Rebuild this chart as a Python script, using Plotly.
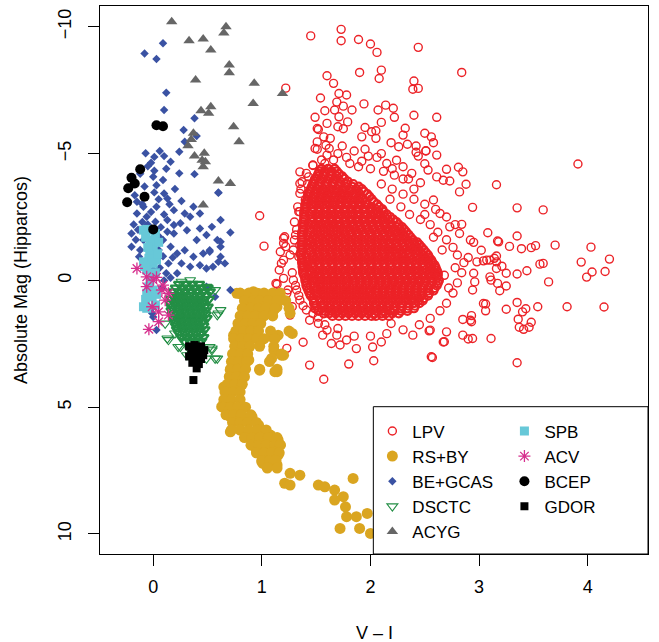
import plotly.graph_objects as go

FONT = "Liberation Sans, Arial, Helvetica, sans-serif"

# ---------------------------------------------------------------
# Hipparcos variable stars: colour V-I vs absolute magnitude
# each list holds (V-I, absolute magnitude) pairs
# ---------------------------------------------------------------

# LPV: scattered stars around the giant-branch clump
lpv_pts = [
    (1.45, -9.64), (1.73, -9.90), (1.73, -9.45), (1.89, -9.50), (2.00, -9.32), (2.06, -8.99),
    (2.44, -9.19), (2.84, -8.20), (1.22, -7.58), (1.60, -8.07), (1.66, -7.77), (1.90, -8.20),
    (2.10, -8.29), (2.08, -7.96), (2.40, -7.86), (2.39, -7.54), (2.44, -7.57), (1.54, -7.19),
    (1.71, -7.37), (1.78, -7.31), (1.69, -7.03), (1.75, -6.87), (1.58, -6.69), (1.67, -6.72),
    (1.83, -6.72), (1.94, -6.96), (1.49, -6.43), (1.71, -6.45), (1.79, -6.25), (2.07, -6.72),
    (2.14, -6.91), (2.21, -6.79), (2.22, -6.43), (2.10, -6.23), (2.40, -6.51), (2.61, -6.43),
    (1.52, -5.95), (1.60, -6.19), (1.70, -6.06), (1.75, -5.98), (1.95, -6.03), (2.01, -5.86),
    (2.05, -5.90), (1.92, -5.66), (2.05, -5.60), (1.51, -5.46), (1.57, -5.66), (1.63, -5.60),
    (1.59, -5.33), (2.19, -5.43), (2.26, -5.27), (2.30, -5.73), (2.32, -6.00), (2.34, -5.37),
    (2.42, -5.30), (2.42, -5.05), (2.50, -5.80), (2.56, -5.66), (2.58, -5.43), (2.51, -5.10),
    (2.61, -4.94), (1.51, -5.17), (1.60, -4.94), (1.70, -5.00), (1.81, -4.61), (1.89, -4.48),
    (1.95, -5.17), (2.06, -4.85), (2.15, -4.61), (2.24, -4.74), (2.30, -4.48), (2.38, -4.22),
    (2.53, -4.35), (2.61, -4.08), (2.70, -4.38), (2.67, -3.95), (1.35, -4.28), (1.35, -3.82),
    (1.43, -4.08), (1.47, -4.53), (1.58, -4.61), (0.98, -2.55), (1.35, -2.71), (1.51, -5.99),
    (1.49, -5.20), (1.47, -4.55), (1.41, -4.22), (1.37, -3.89), (1.35, -3.43), (1.40, -3.17),
    (1.34, -2.71), (1.30, -1.59), (1.20, -1.66), (1.22, -1.33), (1.18, -0.67), (1.24, 0.38),
    (3.91, -4.59), (3.16, -3.77), (3.35, -2.86), (3.59, -2.78), (2.94, -2.88), (2.82, -3.49),
    (2.88, -3.79), (2.73, -3.92), (2.81, -4.46), (2.85, -4.28), (2.51, -5.11),
    (3.08, -1.88), (3.17, -1.55), (3.18, -1.52), (3.28, -1.34), (3.35, -1.75), (3.39, -1.25),
    (3.48, -1.29), (3.52, -1.37), (3.70, -1.39), (4.03, -1.31), (4.20, -0.84), (3.94, -0.72),
    (4.16, -0.35), (4.04, -0.33), (3.99, -0.13), (3.64, 0.06), (3.59, -0.67), (3.56, -0.64),
    (3.02, -1.19), (2.98, -0.73), (3.04, -0.77), (3.10, -0.80), (3.14, -0.87), (3.16, -0.96),
    (3.21, -0.56), (3.25, -0.28), (3.35, -0.25), (3.44, -0.38), (2.95, -0.28), (2.96, 0.06),
    (3.10, -0.14), (3.17, 0.12), (3.19, 0.41), (3.25, 0.22), (3.35, 0.87), (3.40, 1.24),
    (3.43, 1.12), (3.36, 1.53), (3.37, 1.85), (3.41, 1.93), (3.46, 1.85), (3.48, 1.65),
    (3.54, 1.04), (3.81, 1.04), (4.15, 1.05), (3.25, 1.14), (3.06, 0.93), (3.06, 1.20),
    (2.93, 1.39), (2.93, 1.63), (2.85, 1.54), (2.85, 2.16), (2.90, 2.31), (2.94, 2.29),
    (3.11, 2.29), (2.70, 2.03), (2.68, 2.42), (2.57, 3.04), (3.35, 3.25), (2.54, 1.99),
    (2.19, 1.70), (2.39, 2.16), (2.55, 1.96), (2.67, 2.43), (3.04, 0.91), (2.92, 1.57),
    (2.94, 0.38), (3.11, -0.01), (3.16, -0.47), (3.16, -0.73), (3.07, -0.80), (2.92, -1.59),
    (2.82, -1.85), (2.84, -2.21), (2.73, -2.11), (2.64, -2.64), (2.58, -3.17), (4.62, 0.32),
    (1.38, 2.44), (1.44, 3.34), (1.80, 3.30), (2.03, 3.17), (2.56, 3.01), (1.23, 2.68),
    (1.57, 3.90), (1.44, 1.57), (1.52, 1.70), (1.56, 2.16), (1.64, 2.49), (1.72, 2.55),
    (1.87, 2.69), (2.02, 2.63), (2.10, 2.43), (1.60, 1.96), (1.69, 2.16), (1.78, 2.35),
    (1.26, 1.37), (1.14, 0.15), (1.20, -0.08), (1.23, 0.51), (1.28, 1.04), (1.02, -1.35),
    (1.16, -0.41), (1.20, -0.80), (1.20, -1.46), (1.21, -1.72), (1.13, 0.12), (1.14, 0.65),
    (1.31, -1.79), (1.35, -1.39), (1.34, -0.93), (1.37, -0.54), (1.29, -0.01), (1.32, 0.38),
    (1.35, 0.78), (1.41, 1.17), (1.47, 1.30), (1.26, -1.00), (1.17, -1.13),
    (1.62, -5.20), (1.74, -5.30), (1.85, -5.10), (1.98, -4.90), (2.10, -5.00), (1.66, -4.75),
    (1.78, -4.85), (1.92, -4.70), (2.00, -4.40), (2.12, -4.30), (2.22, -4.15), (2.35, -4.00),
    (2.46, -3.85), (2.50, -4.60), (2.44, -4.90), (1.55, -4.75), (2.10, -3.80), (2.20, -3.60),
    (2.30, -3.40), (2.40, -3.20), (2.50, -3.00), (2.60, -2.80), (2.70, -2.50), (2.78, -2.20),
    (2.18, -3.20), (2.28, -2.90), (2.36, -2.60), (2.46, -2.40), (2.55, -2.20), (2.62, -1.90),
    (2.70, -1.60), (2.76, -1.30), (2.80, -1.00), (2.86, -0.70), (2.84, -0.30), (2.80, 0.10),
    (2.76, 0.50), (2.70, 0.90), (2.64, 1.20), (2.55, 1.50), (2.45, 1.75), (2.30, 1.95),
    (2.15, 2.10), (2.00, 2.20), (1.85, 2.20), (1.70, 1.90), (1.58, 1.75), (1.52, 1.45),
    (2.90, -0.90), (2.95, -1.50), (2.68, -0.20), (2.72, 0.30), (2.78, -0.50), (2.66, -1.20),
    (2.58, -1.70), (2.50, -2.60), (2.40, -3.60), (2.30, -4.00), (2.20, -4.40), (1.30, -2.30),
    (1.33, -2.90), (1.36, -3.60), (1.42, -3.80), (1.32, -2.00), (1.29, -1.20), (1.28, -0.30),
    (1.31, 0.20), (1.34, 0.60), (1.38, 1.00),
]

# LPV: the crowded centre of the clump, one row per magnitude
lpv_core_rows = [
    (-4.4, [1.55, 1.61, 1.67]),
    (-4.3, [1.53, 1.58, 1.64, 1.69]),
    (-4.2, [1.52, 1.58, 1.64, 1.71]),
    (-4.1, [1.51, 1.57, 1.63, 1.69, 1.74]),
    (-4.0, [1.49, 1.55, 1.62, 1.68, 1.76]),
    (-3.9, [1.48, 1.54, 1.60, 1.66, 1.72, 1.79]),
    (-3.8, [1.47, 1.52, 1.59, 1.65, 1.71, 1.78, 1.84]),
    (-3.7, [1.46, 1.53, 1.59, 1.65, 1.71, 1.77, 1.83, 1.89]),
    (-3.6, [1.45, 1.50, 1.56, 1.62, 1.69, 1.74, 1.81, 1.87, 1.92]),
    (-3.5, [1.44, 1.51, 1.57, 1.63, 1.69, 1.75, 1.81, 1.87, 1.94]),
    (-3.4, [1.43, 1.48, 1.54, 1.60, 1.65, 1.72, 1.77, 1.84, 1.90, 1.97]),
    (-3.3, [1.43, 1.49, 1.55, 1.61, 1.67, 1.73, 1.79, 1.85, 1.91, 1.99]),
    (-3.2, [1.42, 1.46, 1.52, 1.58, 1.63, 1.70, 1.75, 1.81, 1.88, 1.93, 2.01]),
    (-3.1, [1.41, 1.48, 1.54, 1.60, 1.66, 1.72, 1.78, 1.84, 1.90, 1.96, 2.03]),
    (-3.0, [1.40, 1.45, 1.50, 1.56, 1.62, 1.67, 1.73, 1.79, 1.85, 1.91, 1.97, 2.06]),
    (-2.9, [1.40, 1.47, 1.53, 1.59, 1.65, 1.71, 1.77, 1.83, 1.89, 1.95, 2.01, 2.08]),
    (-2.8, [1.40, 1.47, 1.53, 1.58, 1.64, 1.70, 1.76, 1.82, 1.87, 1.94, 2.00, 2.05, 2.11]),
    (-2.7, [1.39, 1.46, 1.52, 1.58, 1.64, 1.70, 1.76, 1.82, 1.88, 1.94, 2.00, 2.06, 2.12]),
    (-2.6, [1.39, 1.44, 1.50, 1.56, 1.61, 1.67, 1.73, 1.79, 1.84, 1.90, 1.97, 2.03, 2.09, 2.15]),
    (-2.5, [1.39, 1.47, 1.53, 1.59, 1.65, 1.71, 1.77, 1.83, 1.89, 1.95, 2.01, 2.07, 2.13, 2.18]),
    (-2.4, [1.39, 1.46, 1.52, 1.58, 1.63, 1.69, 1.76, 1.81, 1.87, 1.93, 1.99, 2.05, 2.11, 2.16,
            2.21]),
    (-2.3, [1.38, 1.46, 1.52, 1.58, 1.64, 1.70, 1.76, 1.82, 1.88, 1.94, 2.00, 2.06, 2.12, 2.18,
            2.24]),
    (-2.2, [1.38, 1.43, 1.49, 1.55, 1.61, 1.66, 1.72, 1.78, 1.84, 1.90, 1.96, 2.02, 2.08, 2.13,
            2.19, 2.26]),
    (-2.1, [1.38, 1.48, 1.54, 1.60, 1.66, 1.72, 1.78, 1.84, 1.90, 1.96, 2.02, 2.08, 2.14, 2.20,
            2.25, 2.29]),
    (-2.0, [1.38, 1.45, 1.51, 1.57, 1.63, 1.69, 1.75, 1.81, 1.86, 1.92, 1.98, 2.04, 2.10, 2.16,
            2.22, 2.27, 2.31]),
    (-1.9, [1.37, 1.45, 1.51, 1.57, 1.63, 1.69, 1.75, 1.81, 1.87, 1.93, 1.99, 2.05, 2.11, 2.17,
            2.22, 2.28, 2.33]),
    (-1.8, [1.37, 1.42, 1.48, 1.54, 1.60, 1.66, 1.72, 1.77, 1.83, 1.89, 1.95, 2.01, 2.07, 2.13,
            2.19, 2.24, 2.30, 2.35]),
    (-1.7, [1.37, 1.47, 1.53, 1.59, 1.65, 1.71, 1.77, 1.83, 1.89, 1.95, 2.01, 2.07, 2.13, 2.19,
            2.25, 2.31, 2.37]),
    (-1.6, [1.37, 1.44, 1.50, 1.56, 1.62, 1.68, 1.74, 1.80, 1.86, 1.92, 1.98, 2.04, 2.10, 2.15,
            2.21, 2.27, 2.33, 2.39]),
    (-1.5, [1.37, 1.45, 1.51, 1.57, 1.63, 1.69, 1.75, 1.81, 1.87, 1.93, 1.99, 2.05, 2.11, 2.17,
            2.23, 2.29, 2.35, 2.40, 2.43]),
    (-1.4, [1.37, 1.42, 1.47, 1.53, 1.59, 1.65, 1.71, 1.77, 1.83, 1.89, 1.95, 2.01, 2.07, 2.12,
            2.18, 2.24, 2.30, 2.36, 2.41, 2.45]),
    (-1.3, [1.37, 1.47, 1.53, 1.59, 1.65, 1.71, 1.77, 1.83, 1.89, 1.95, 2.01, 2.07, 2.13, 2.19,
            2.25, 2.31, 2.37, 2.42, 2.47]),
    (-1.2, [1.37, 1.44, 1.50, 1.56, 1.62, 1.68, 1.74, 1.80, 1.86, 1.92, 1.98, 2.04, 2.10, 2.16,
            2.21, 2.27, 2.33, 2.39, 2.44, 2.49]),
    (-1.1, [1.36, 1.45, 1.51, 1.57, 1.63, 1.69, 1.75, 1.81, 1.87, 1.93, 1.99, 2.05, 2.11, 2.17,
            2.23, 2.29, 2.35, 2.41, 2.46, 2.51]),
    (-1.0, [1.36, 1.41, 1.47, 1.53, 1.59, 1.65, 1.71, 1.77, 1.83, 1.89, 1.95, 2.01, 2.07, 2.13,
            2.19, 2.25, 2.30, 2.36, 2.42, 2.48, 2.53]),
    (-0.9, [1.37, 1.47, 1.53, 1.59, 1.65, 1.71, 1.77, 1.83, 1.89, 1.95, 2.01, 2.07, 2.13, 2.19,
            2.25, 2.31, 2.37, 2.43, 2.49, 2.54]),
    (-0.8, [1.37, 1.44, 1.50, 1.56, 1.62, 1.68, 1.74, 1.80, 1.86, 1.92, 1.98, 2.04, 2.10, 2.16,
            2.22, 2.28, 2.33, 2.39, 2.45, 2.51, 2.56]),
    (-0.7, [1.37, 1.46, 1.52, 1.58, 1.64, 1.70, 1.76, 1.82, 1.88, 1.94, 2.00, 2.06, 2.12, 2.18,
            2.24, 2.30, 2.36, 2.42, 2.48, 2.53, 2.57]),
    (-0.6, [1.38, 1.42, 1.47, 1.53, 1.59, 1.65, 1.71, 1.77, 1.83, 1.89, 1.95, 2.01, 2.07, 2.13,
            2.19, 2.25, 2.31, 2.36, 2.42, 2.48, 2.54, 2.59]),
    (-0.5, [1.38, 1.47, 1.53, 1.59, 1.65, 1.71, 1.77, 1.83, 1.89, 1.95, 2.01, 2.07, 2.13, 2.19,
            2.25, 2.31, 2.37, 2.43, 2.49, 2.55, 2.60]),
    (-0.4, [1.38, 1.44, 1.50, 1.56, 1.62, 1.68, 1.74, 1.80, 1.86, 1.92, 1.98, 2.04, 2.10, 2.16,
            2.22, 2.28, 2.34, 2.40, 2.45, 2.51, 2.57, 2.61]),
    (-0.3, [1.38, 1.46, 1.52, 1.58, 1.64, 1.70, 1.76, 1.82, 1.88, 1.94, 2.00, 2.06, 2.12, 2.18,
            2.24, 2.30, 2.36, 2.42, 2.48, 2.54, 2.59, 2.62]),
    (-0.2, [1.39, 1.43, 1.48, 1.53, 1.59, 1.65, 1.71, 1.77, 1.83, 1.89, 1.95, 2.01, 2.07, 2.13,
            2.19, 2.25, 2.31, 2.37, 2.43, 2.48, 2.54, 2.59, 2.62]),
    (-0.1, [1.40, 1.48, 1.54, 1.60, 1.66, 1.72, 1.78, 1.84, 1.90, 1.96, 2.02, 2.08, 2.14, 2.20,
            2.26, 2.32, 2.38, 2.44, 2.50, 2.56, 2.61]),
    (0.0, [1.40, 1.46, 1.51, 1.57, 1.63, 1.69, 1.75, 1.80, 1.86, 1.92, 1.98, 2.04, 2.10, 2.16,
           2.22, 2.28, 2.34, 2.40, 2.46, 2.51, 2.57, 2.63]),
    (0.1, [1.41, 1.48, 1.54, 1.60, 1.66, 1.72, 1.78, 1.84, 1.90, 1.96, 2.02, 2.08, 2.14, 2.20,
           2.26, 2.32, 2.38, 2.44, 2.50, 2.56, 2.62]),
    (0.2, [1.41, 1.45, 1.49, 1.54, 1.60, 1.66, 1.72, 1.78, 1.84, 1.90, 1.96, 2.02, 2.08, 2.14,
           2.20, 2.25, 2.31, 2.37, 2.43, 2.49, 2.55, 2.61]),
    (0.3, [1.42, 1.51, 1.57, 1.63, 1.69, 1.75, 1.81, 1.87, 1.93, 1.99, 2.05, 2.11, 2.17, 2.23,
           2.29, 2.35, 2.41, 2.47, 2.53, 2.59]),
    (0.4, [1.43, 1.48, 1.54, 1.60, 1.66, 1.72, 1.78, 1.84, 1.90, 1.96, 2.01, 2.07, 2.13, 2.19,
           2.25, 2.31, 2.37, 2.43, 2.48, 2.53, 2.58]),
    (0.5, [1.44, 1.51, 1.57, 1.63, 1.69, 1.75, 1.81, 1.87, 1.93, 1.99, 2.05, 2.11, 2.17, 2.23,
           2.29, 2.35, 2.41, 2.47, 2.54]),
    (0.6, [1.45, 1.51, 1.57, 1.63, 1.69, 1.75, 1.81, 1.87, 1.93, 1.99, 2.05, 2.11, 2.17, 2.23,
           2.29, 2.35, 2.41, 2.47, 2.53]),
    (0.7, [1.47, 1.54, 1.60, 1.66, 1.72, 1.78, 1.84, 1.90, 1.96, 2.02, 2.08, 2.14, 2.20, 2.26,
           2.32, 2.38, 2.44, 2.49]),
    (0.8, [1.48, 1.54, 1.60, 1.66, 1.72, 1.78, 1.84, 1.90, 1.96, 2.02, 2.08, 2.14, 2.20, 2.26,
           2.32, 2.38, 2.44, 2.48]),
    (0.9, [1.48, 1.57, 1.63, 1.69, 1.75, 1.81, 1.87, 1.93, 1.99, 2.05, 2.11, 2.17, 2.23, 2.29,
           2.35, 2.40, 2.45]),
    (1.0, [1.50, 1.57, 1.63, 1.69, 1.75, 1.81, 1.87, 1.93, 1.99, 2.05, 2.11, 2.17, 2.23, 2.29,
           2.35, 2.41]),
    (1.1, [1.49, 1.55, 1.61, 1.67, 1.73, 1.79, 1.85, 1.91, 1.97, 2.03, 2.09, 2.15, 2.21, 2.28,
           2.34, 2.40]),
    (1.2, [1.52, 1.58, 1.64, 1.70, 1.76, 1.82, 1.88, 1.94, 2.00, 2.06, 2.12, 2.18, 2.22, 2.28,
           2.34]),
    (1.3, [1.57, 1.62, 1.68, 1.74, 1.80, 1.86, 1.92, 1.98, 2.04, 2.10, 2.14, 2.20, 2.26]),
    (1.4, [1.65, 1.71, 1.77, 1.83, 1.89, 1.95, 2.01, 2.05, 2.11, 2.17]),
]

# RS+BY: main-sequence band
rsby_pts = [
    (0.80, 0.52), (0.91, 0.58), (0.97, 0.52), (1.03, 0.65), (1.17, 0.65), (1.14, 1.04),
    (1.26, 1.30), (1.11, 1.17), (1.05, 0.91), (0.95, 0.91), (0.88, 0.91), (0.83, 1.24),
    (0.94, 1.24), (1.03, 1.30), (0.74, 2.16), (0.83, 1.96), (0.88, 1.70), (0.95, 1.76),
    (1.00, 2.35), (1.09, 2.22), (1.15, 2.16), (1.11, 2.75), (1.18, 2.95), (1.28, 2.09),
    (1.09, 3.08), (1.14, 3.60), (0.98, 3.54), (0.74, 2.88), (0.80, 3.14), (0.88, 3.14),
    (0.71, 3.54), (0.72, 3.93), (0.77, 4.20), (0.68, 4.59), (0.65, 4.85), (0.65, 4.20),
    (0.63, 4.98), (0.71, 5.38), (0.77, 5.11), (0.83, 5.44), (0.91, 5.38), (0.97, 5.71),
    (0.71, 5.97), (0.85, 6.03), (0.92, 6.23), (0.98, 6.43), (1.08, 6.10), (1.15, 6.30),
    (1.17, 6.49), (1.08, 6.69), (0.95, 6.69), (1.00, 7.15), (1.08, 7.28), (1.14, 7.28),
    (1.15, 6.89), (1.01, 7.22), (1.26, 7.61), (1.35, 7.68), (1.21, 8.00), (1.26, 8.07),
    (1.52, 8.07), (1.58, 8.14), (1.67, 8.27), (1.84, 7.81), (1.75, 8.53), (1.67, 8.66),
    (1.77, 8.93), (1.78, 9.32), (1.87, 9.32), (1.97, 9.19), (1.72, 9.78), (1.90, 9.78),
    (2.00, 9.98), (1.17, 0.71), (1.12, 3.60), (1.20, 2.95), (0.77, 0.51), (0.92, 0.45),
]
rsby_rows = [
    (0.5, [0.80, 0.88, 0.95, 1.02, 1.10, 1.17]),
    (0.8, [0.84, 0.92, 0.98, 1.06, 1.14, 1.22]),
    (1.1, [0.82, 0.90, 0.97, 1.04, 1.12, 1.25]),
    (1.4, [0.80, 0.87, 0.94, 1.02, 1.10]),
    (1.7, [0.78, 0.85, 0.92, 0.99]),
    (2.0, [0.76, 0.83, 0.90, 0.97, 1.08, 1.25]),
    (2.3, [0.74, 0.81, 0.88, 0.95, 1.02, 1.12]),
    (2.6, [0.75, 0.82, 0.89, 0.98, 1.11]),
    (2.9, [0.73, 0.80, 0.87, 1.18]),
    (3.2, [0.72, 0.79, 0.86, 1.07]),
    (3.5, [0.71, 0.78, 0.85, 0.98, 1.14]),
    (3.8, [0.70, 0.77, 0.84]),
    (4.1, [0.68, 0.75, 0.82]),
    (4.4, [0.66, 0.73, 0.80]),
    (4.7, [0.65, 0.72, 0.80]),
    (5.0, [0.64, 0.71, 0.78, 0.85]),
    (5.3, [0.67, 0.74, 0.81, 0.90]),
    (5.6, [0.73, 0.80, 0.87, 0.95]),
    (5.9, [0.72, 0.80, 0.88, 0.96, 1.04]),
    (6.2, [0.84, 0.91, 0.98, 1.06, 1.14]),
    (6.5, [0.90, 0.97, 1.04, 1.12, 1.17]),
    (6.8, [0.95, 1.02, 1.09, 1.16]),
    (7.1, [1.00, 1.07, 1.13]),
    (7.4, [1.05, 1.14]),
]

# BE+GCAS: hot emission-line stars
begcas_pts = [
    (-0.08, -8.95), (0.09, -9.35), (0.03, -8.73), (0.12, -7.40), (0.10, -6.72), (0.38, -6.39),
    (0.28, -5.93), (0.40, -5.69), (0.29, -5.47), (-0.07, -5.01), (0.06, -5.10), (0.01, -4.87),
    (0.24, -5.07), (0.16, -4.68), (-0.02, -4.64), (0.01, -4.32), (0.00, -4.09), (0.24, -4.22),
    (0.38, -4.19), (0.09, -3.96), (0.01, -3.47), (0.10, -3.43), (0.26, -3.13), (0.60, -3.47),
    (0.13, -3.23), (-0.17, -3.36), (-0.15, -3.10), (-0.09, -2.90), (0.03, -2.90), (0.19, -2.77),
    (0.29, -2.64), (0.37, -2.90), (0.43, -2.64), (0.34, -2.51), (0.62, -2.38), (0.71, -1.89),
    (-0.15, -2.64), (-0.06, -2.51), (0.02, -2.31), (0.13, -2.38), (0.19, -2.18), (0.25, -2.25),
    (-0.06, -1.98), (0.03, -1.98), (0.13, -1.92), (0.19, -1.85), (0.31, -1.98), (0.43, -2.05),
    (0.54, -2.11), (0.49, -1.79), (0.40, -1.59), (0.59, -1.59), (0.62, -1.33), (-0.20, -1.85),
    (-0.20, -1.33), (-0.09, -1.59), (0.00, -1.46), (0.09, -1.59), (0.16, -1.33), (0.22, -1.06),
    (0.29, -1.19), (0.37, -0.93), (0.46, -1.06), (0.52, -1.19), (0.62, -0.93), (0.66, -0.67),
    (0.55, -0.54), (0.43, -0.60), (0.34, -0.54), (0.26, -0.67), (0.14, -0.67), (0.03, -0.80),
    (-0.06, -0.80), (-0.13, -0.93), (0.00, -0.41), (0.12, -0.28), (0.22, -0.28), (0.71, 0.38),
    (0.60, -3.45), (0.62, -1.52), (0.52, -1.13), (0.60, -0.73), (0.49, -0.47), (0.57, 0.65),
    (0.49, 0.25), (0.00, 1.04), (0.03, 1.96), (0.00, 1.44), (-0.01, 1.30), (-0.18, -2.20),
    (-0.14, -2.00), (-0.10, -2.30), (-0.05, -2.20), (0.07, -2.10), (0.10, -2.60), (-0.02, -2.70),
    (0.06, -1.70), (-0.12, -1.20), (-0.16, -1.60), (0.05, -1.20), (0.09, -0.95), (0.18, -0.90),
    (0.06, -0.50), (0.10, 0.00), (0.16, -0.10), (0.08, 0.30), (-0.08, -3.70), (0.03, -3.75),
    (-0.12, -4.20), (0.12, -4.40), (-0.05, -4.50), (0.10, -4.90), (0.20, -3.60), (0.15, -3.00),
    (0.05, -3.20), (-0.10, -3.00),
]

# DSCTC: delta Scuti stars
dsctc_pts = [
    (0.14, 2.35), (0.25, 2.62), (0.34, 2.75), (0.54, 2.75), (0.57, 3.08), (0.59, 1.37),
    (0.57, 0.38), (0.49, 0.25), (0.34, -0.01), (0.26, 0.05), (0.11, 1.70), (0.20, 2.09),
    (0.62, 1.17), (0.54, 2.68), (0.59, 3.08), (0.49, 3.08), (0.13, 2.29), (0.23, 2.62),
    (0.31, 2.95), (0.52, 2.62), (0.60, 1.30),
]
dsctc_rows = [
    (0.15, [0.24, 0.30, 0.36, 0.42]),
    (0.30, [0.21, 0.27, 0.32, 0.38, 0.44, 0.50]),
    (0.45, [0.19, 0.24, 0.29, 0.35, 0.40, 0.46, 0.52]),
    (0.60, [0.18, 0.23, 0.28, 0.33, 0.38, 0.43, 0.48]),
    (0.75, [0.17, 0.22, 0.27, 0.32, 0.37, 0.42, 0.47, 0.51]),
    (0.90, [0.16, 0.21, 0.26, 0.31, 0.36, 0.41, 0.46]),
    (1.05, [0.17, 0.22, 0.27, 0.32, 0.37, 0.42, 0.47, 0.50]),
    (1.20, [0.17, 0.23, 0.28, 0.33, 0.38, 0.43, 0.48]),
    (1.35, [0.18, 0.23, 0.28, 0.33, 0.38, 0.43, 0.48]),
    (1.50, [0.19, 0.24, 0.29, 0.34, 0.39, 0.44, 0.49]),
    (1.65, [0.20, 0.25, 0.30, 0.35, 0.40, 0.45]),
    (1.80, [0.21, 0.26, 0.31, 0.36, 0.41, 0.46]),
    (1.95, [0.22, 0.27, 0.32, 0.37, 0.42, 0.47]),
    (2.10, [0.24, 0.29, 0.34, 0.39, 0.44]),
    (2.25, [0.26, 0.31, 0.36, 0.41, 0.46]),
    (2.40, [0.29, 0.34, 0.39, 0.44]),
]

# ACYG: alpha Cygni supergiants
acyg_pts = [
    (0.17, -10.20), (0.33, -9.45), (0.46, -9.52), (0.53, -9.08), (0.67, -10.00), (0.65, -9.76),
    (0.70, -8.49), (0.70, -8.19), (0.39, -7.90), (0.93, -7.77), (0.92, -6.98), (1.19, -7.37),
    (0.53, -6.85), (0.44, -6.69), (0.51, -6.59), (0.74, -6.06), (0.79, -5.47), (0.37, -5.80),
    (0.35, -5.56), (0.32, -5.31), (0.47, -5.01), (0.38, -4.90), (0.45, -4.74), (0.48, -4.68),
    (0.46, -4.48), (0.60, -3.92), (0.71, -3.82), (0.46, -2.97),
]

# SPB: slowly pulsating B stars
spb_pts = [
    (-0.06, -2.01), (0.02, -1.85), (-0.03, -1.46), (0.00, -1.26), (-0.03, -1.06), (-0.04, -0.87),
    (0.00, -0.67), (0.03, -0.80), (-0.06, -0.41), (-0.01, -0.14), (-0.04, 0.25), (0.00, 0.38),
    (-0.01, 0.65), (-0.06, 1.10), (-0.09, 1.04), (0.02, 0.97), (-0.03, -1.19), (-0.01, -1.98),
    (-0.09, -1.98), (-0.09, -0.73), (-0.06, 0.51), (-0.07, -1.70), (0.00, -1.60), (-0.05, -1.30),
    (0.04, -1.05), (-0.08, -0.55), (0.02, -0.30), (-0.03, 0.00), (-0.07, 0.75), (0.03, 0.55),
    (0.05, -1.50),
]

# ACV: alpha2 CVn stars
acv_pts = [
    (-0.15, -0.47), (-0.06, -0.14), (0.00, -0.01), (-0.06, 0.25), (0.08, 0.38), (0.11, 0.78),
    (-0.01, 1.04), (0.05, 1.24), (0.14, 1.37), (0.05, 1.63), (-0.04, 1.93), (0.03, -0.12),
    (0.14, 0.51), (0.09, 0.19),
]

# BCEP: beta Cephei stars
bcep_pts = [
    (0.03, -6.12), (0.09, -6.08), (-0.12, -4.38), (-0.20, -4.05), (-0.17, -3.82), (-0.23, -3.63),
    (-0.24, -3.08), (-0.08, -3.30), (0.00, -2.01),
]

# GDOR: gamma Doradus stars
gdor_pts = [
    (0.33, 2.60), (0.38, 2.55), (0.44, 2.60), (0.47, 2.75), (0.35, 2.80), (0.41, 2.85),
    (0.46, 2.95), (0.33, 3.00), (0.38, 3.05), (0.44, 3.10), (0.36, 3.25), (0.42, 3.30),
    (0.40, 3.47), (0.37, 3.93),
]

x_ticks = [0, 1, 2, 3, 4]
y_ticks = [-10, -5, 0, 5, 10]


def rows_to_pts(rows):
    return [(vi, mag) for mag, vis in rows for vi in vis]


def split(pts):
    return [p[0] for p in pts], [p[1] for p in pts]


# name, points, symbol, size, colour, line width, legend, crowded-centre points
series = [
    ("LPV", lpv_pts, "circle-open", 8, "#EC2227", 1.4, "legend", rows_to_pts(lpv_core_rows)),
    ("RS+BY", rsby_pts + rows_to_pts(rsby_rows), "circle", 11, "#DAA520", 0, "legend", []),
    ("BE+GCAS", begcas_pts, "diamond", 6.5, "#3A52A3", 0, "legend", []),
    ("DSCTC", dsctc_pts, "triangle-down-open", 9.5, "#238E45", 1.1, "legend",
     rows_to_pts(dsctc_rows)),
    ("ACYG", acyg_pts, "triangle-up", 10, "#666666", 0, "legend", []),
    ("SPB", spb_pts, "square", 9, "#67C8D8", 0, "legend2", []),
    ("ACV", acv_pts, "asterisk-open", 10, "#D6308E", 1.3, "legend2", []),
    ("BCEP", bcep_pts, "circle", 10, "#000000", 0, "legend2", []),
    ("GDOR", gdor_pts, "square", 8, "#000000", 0, "legend2", []),
]

fig = go.Figure()
for name, pts, symbol, size, colour, lw, leg, crowd in series:
    if crowd:
        # crowded centre: overlapping outlines merge into a solid patch
        cx, cy = split(crowd)
        fig.add_trace(go.Scatter(
            x=cx, y=cy, mode="markers", name=name, showlegend=False,
            legend=leg, hoverinfo="skip",
            marker=dict(symbol=symbol, size=size, color=colour,
                        line=dict(color=colour, width=2.2))))
    xs, ys = split(pts)
    marker = dict(symbol=symbol, size=size, color=colour)
    if lw:
        marker["line"] = dict(color=colour, width=lw)
    else:
        marker["line"] = dict(width=0)
    fig.add_trace(go.Scatter(x=xs, y=ys, mode="markers", name=name,
                             marker=marker, legend=leg, hoverinfo="skip"))

axis_common = dict(
    showgrid=False, zeroline=False, showline=True, mirror=True,
    linecolor="black", linewidth=1, ticks="outside", ticklen=11,
    tickwidth=1, tickcolor="black",
    tickfont=dict(family=FONT, size=18, color="black"),
)

fig.update_xaxes(range=[-0.49, 4.555], tickvals=x_ticks, ticklabelstandoff=5, **axis_common)
fig.update_yaxes(range=[10.79, -10.82], tickvals=y_ticks, tickangle=-90,
                 ticklabelstandoff=10, **axis_common)

legend_common = dict(
    bgcolor="rgba(0,0,0,0)", borderwidth=0, orientation="v", tracegroupgap=0,
    font=dict(family=FONT, size=17, color="black"),
    xanchor="left", yanchor="top", itemclick=False, itemdoubleclick=False,
)

fig.update_layout(
    width=659, height=642,
    margin=dict(l=100, r=11, t=6, b=88),
    paper_bgcolor="white", plot_bgcolor="white",
    showlegend=True,
    legend=dict(x=0.497, y=0.2565, **legend_common),
    legend2=dict(x=0.738, y=0.2565, **legend_common),
    shapes=[dict(type="rect", xref="paper", yref="paper", x0=0.4988, x1=1, y0=0, y1=0.2688,
                 fillcolor="white", line=dict(color="black", width=1), layer="above")],
    annotations=[
        dict(text="V – I", xref="paper", yref="paper", x=0.5, y=0, yshift=-79,
             xanchor="center", yanchor="middle", showarrow=False,
             font=dict(family=FONT, size=18, color="black")),
        dict(text="Absolute Mag (Hipparcos)", xref="paper", yref="paper", x=0, y=0.5,
             xshift=-79, xanchor="center", yanchor="middle", textangle=-90, showarrow=False,
             font=dict(family=FONT, size=18, color="black")),
    ],
)

fig.write_html("out.html")
